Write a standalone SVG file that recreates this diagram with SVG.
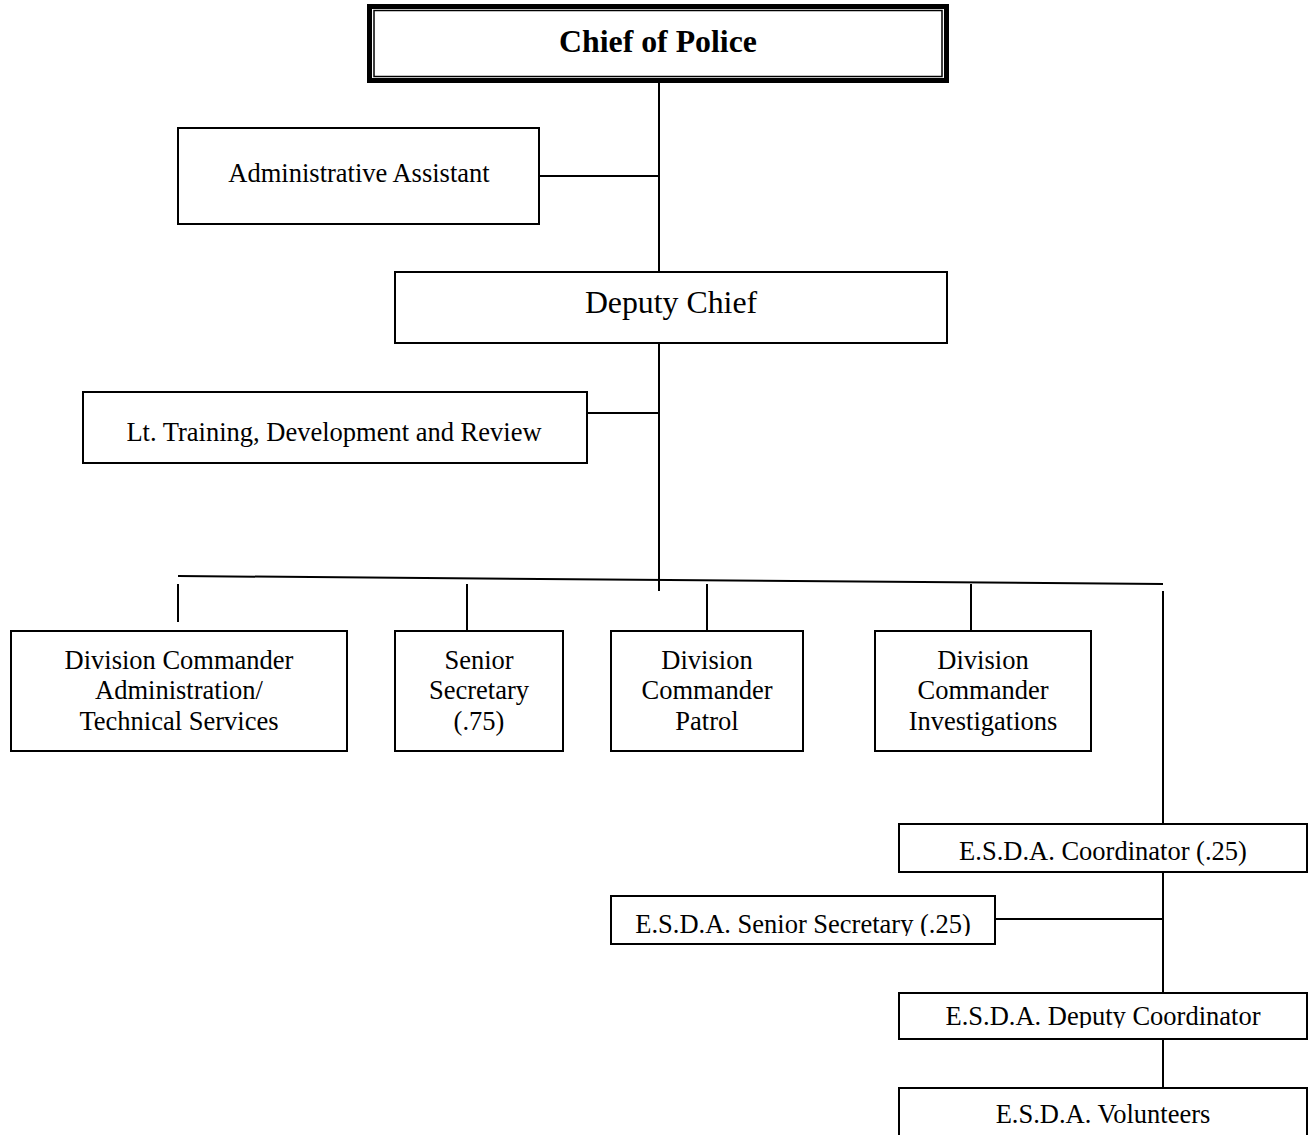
<svg xmlns="http://www.w3.org/2000/svg" width="1309" height="1135" viewBox="0 0 1309 1135">
<style>
.box{fill:#fff;stroke:#000;stroke-width:2}
.ln{fill:none;stroke:#000;stroke-width:2}
.t{font-family:"Liberation Serif","Times New Roman",serif;font-size:26.5px;fill:#000;text-anchor:middle}
.big{font-size:31.8px}
.b{font-weight:bold}
</style>
<defs>
<clipPath id="clipSS"><rect x="600" y="890" width="400" height="46"/></clipPath>
<clipPath id="clipDC"><rect x="890" y="990" width="420" height="38"/></clipPath>
</defs>
<rect width="1309" height="1135" fill="#fff"/>
<g id="connectors">
<line class="ln" x1="659" y1="83" x2="659" y2="272"/>
<line class="ln" x1="539" y1="176" x2="659" y2="176"/>
<line class="ln" x1="659" y1="343" x2="659" y2="591"/>
<line class="ln" x1="587" y1="413" x2="659" y2="413"/>
<line class="ln" x1="178" y1="576" x2="1163" y2="584"/>
<line class="ln" x1="178" y1="584" x2="178" y2="622"/>
<line class="ln" x1="467" y1="584" x2="467" y2="631"/>
<line class="ln" x1="707" y1="584" x2="707" y2="631"/>
<line class="ln" x1="971" y1="584" x2="971" y2="631"/>
<line class="ln" x1="1163" y1="591" x2="1163" y2="824"/>
<line class="ln" x1="1163" y1="872" x2="1163" y2="993"/>
<line class="ln" x1="995" y1="919" x2="1163" y2="919"/>
<line class="ln" x1="1163" y1="1039" x2="1163" y2="1088"/>
</g>
<g id="chief">
<rect x="369.5" y="6.5" width="577" height="74" fill="#fff" stroke="#000" stroke-width="5"/>
<rect x="374" y="10.5" width="568" height="66" fill="none" stroke="#000" stroke-width="1.5"/>
<text class="t big b" x="658" y="52">Chief of Police</text>
</g>
<g id="admin-assistant">
<rect class="box" x="178" y="128" width="361" height="96"/>
<text class="t" x="359" y="182">Administrative Assistant</text>
</g>
<g id="deputy-chief">
<rect class="box" x="395" y="272" width="552" height="71"/>
<text class="t big" x="671" y="313">Deputy Chief</text>
</g>
<g id="lt-training">
<rect class="box" x="83" y="392" width="504" height="71"/>
<text class="t" x="334" y="441">Lt. Training, Development and Review</text>
</g>
<g id="div-admin">
<rect class="box" x="11" y="631" width="336" height="120"/>
<text class="t" x="179" y="669">Division Commander</text>
<text class="t" x="179" y="699">Administration/</text>
<text class="t" x="179" y="730">Technical Services</text>
</g>
<g id="senior-secretary">
<rect class="box" x="395" y="631" width="168" height="120"/>
<text class="t" x="479" y="669">Senior</text>
<text class="t" x="479" y="699">Secretary</text>
<text class="t" x="479" y="730">(.75)</text>
</g>
<g id="div-patrol">
<rect class="box" x="611" y="631" width="192" height="120"/>
<text class="t" x="707" y="669">Division</text>
<text class="t" x="707" y="699">Commander</text>
<text class="t" x="707" y="730">Patrol</text>
</g>
<g id="div-investigations">
<rect class="box" x="875" y="631" width="216" height="120"/>
<text class="t" x="983" y="669">Division</text>
<text class="t" x="983" y="699">Commander</text>
<text class="t" x="983" y="730">Investigations</text>
</g>
<g id="esda-coordinator">
<rect class="box" x="899" y="824" width="408" height="48"/>
<text class="t" x="1103" y="860">E.S.D.A. Coordinator (.25)</text>
</g>
<g id="esda-senior-secretary">
<rect class="box" x="611" y="896" width="384" height="48"/>
<text class="t" x="803" y="933" clip-path="url(#clipSS)">E.S.D.A. Senior Secretary (.25)</text>
</g>
<g id="esda-deputy-coordinator">
<rect class="box" x="899" y="993" width="408" height="46"/>
<text class="t" x="1103" y="1025" clip-path="url(#clipDC)">E.S.D.A. Deputy Coordinator</text>
</g>
<g id="esda-volunteers">
<rect class="box" x="899" y="1088" width="408" height="60"/>
<text class="t" x="1103" y="1123">E.S.D.A. Volunteers</text>
</g>
</svg>
